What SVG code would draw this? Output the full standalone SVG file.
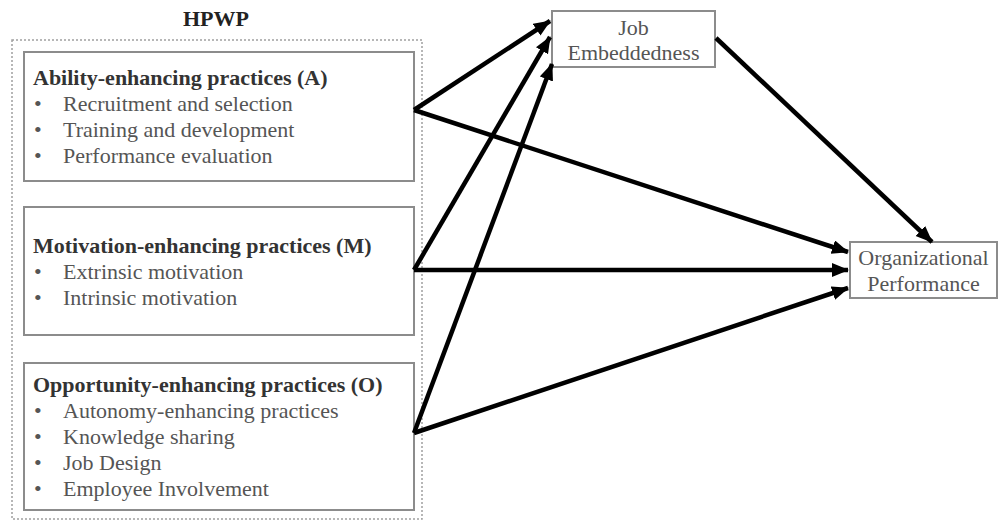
<svg xmlns="http://www.w3.org/2000/svg" width="1004" height="521" viewBox="0 0 1004 521">
<style>
.box{fill:#fff;stroke:#8c8c8c;stroke-width:2}
.outer{fill:none;stroke:#a0a0a0;stroke-width:1.5;stroke-dasharray:2 2}
.t{font-family:"Liberation Serif","Times New Roman",serif;font-size:22px;fill:#555}
.b{font-family:"Liberation Serif","Times New Roman",serif;font-size:22px;font-weight:bold;fill:#333}
.c{text-anchor:middle}
.arr{stroke:#000;stroke-width:4.5;fill:none;marker-end:url(#ah)}
</style>
<defs>
<marker id="ah" markerUnits="userSpaceOnUse" markerWidth="18" markerHeight="16" refX="16" refY="7" orient="auto">
<path d="M0,0 L17,7 L0,14 z" fill="#000"/>
</marker>
</defs>
<rect width="1004" height="521" fill="#fff"/>
<g id="hpwp">
<text class="b c" x="216" y="26" style="fill:#222">HPWP</text>
<rect class="outer" x="12" y="40" width="410" height="479"/>
</g>
<g id="ability">
<rect class="box" x="24" y="52" width="390" height="129"/>
<text class="b" x="33" y="85">Ability-enhancing practices (A)</text>
<text class="t" x="34" y="111">•</text><text class="t" x="63" y="111">Recruitment and selection</text>
<text class="t" x="34" y="137">•</text><text class="t" x="63" y="137">Training and development</text>
<text class="t" x="34" y="163">•</text><text class="t" x="63" y="163">Performance evaluation</text>
</g>
<g id="motivation">
<rect class="box" x="24" y="207" width="390" height="128"/>
<text class="b" x="33" y="253">Motivation-enhancing practices (M)</text>
<text class="t" x="34" y="279">•</text><text class="t" x="63" y="279">Extrinsic motivation</text>
<text class="t" x="34" y="305">•</text><text class="t" x="63" y="305">Intrinsic motivation</text>
</g>
<g id="opportunity">
<rect class="box" x="24" y="363" width="390" height="147"/>
<text class="b" x="33" y="392">Opportunity-enhancing practices (O)</text>
<text class="t" x="34" y="418">•</text><text class="t" x="63" y="418">Autonomy-enhancing practices</text>
<text class="t" x="34" y="444">•</text><text class="t" x="63" y="444">Knowledge sharing</text>
<text class="t" x="34" y="470">•</text><text class="t" x="63" y="470">Job Design</text>
<text class="t" x="34" y="496">•</text><text class="t" x="63" y="496">Employee Involvement</text>
</g>
<g id="je">
<rect class="box" x="552" y="11" width="163" height="56"/>
<text class="t c" x="633.5" y="35">Job</text>
<text class="t c" x="633.5" y="60">Embeddedness</text>
</g>
<g id="op">
<rect class="box" x="850" y="242" width="147" height="56"/>
<text class="t c" x="923.5" y="265">Organizational</text>
<text class="t c" x="923.5" y="291">Performance</text>
</g>
<g id="connectors">
<line class="arr" x1="414" y1="110" x2="550" y2="21"/>
<line class="arr" x1="414" y1="270" x2="550" y2="37"/>
<line class="arr" x1="414" y1="433" x2="552" y2="64"/>
<line class="arr" x1="414" y1="110" x2="848" y2="252"/>
<line class="arr" x1="414" y1="270" x2="848" y2="270"/>
<line class="arr" x1="414" y1="433" x2="848" y2="288"/>
<line class="arr" x1="716" y1="38" x2="932" y2="242"/>
</g>
</svg>
